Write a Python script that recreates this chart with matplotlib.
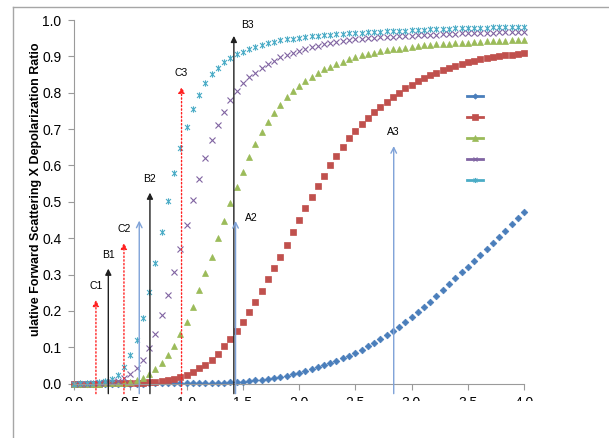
import numpy as np
import matplotlib
matplotlib.use("Agg")
import matplotlib.pyplot as plt
from matplotlib.path import Path
from matplotlib.lines import Line2D
from matplotlib.patches import Rectangle

# x grid of the curves (73 samples between 0 and 4)
x_vals = np.linspace(0.0, 4.0, 73)

blue = [0, 0, 0, 0, 0, 0, 0, 0, 0, 0, 0, 0, 0.001, 0.001, 0.001, 0.001, 0.001, 0.001,
        0.002, 0.002, 0.002, 0.002, 0.002, 0.003, 0.003,
        0.004, 0.005, 0.006, 0.007, 0.009, 0.010, 0.013, 0.015, 0.018, 0.022,
        0.026, 0.029, 0.034, 0.040, 0.045, 0.051, 0.056, 0.063, 0.070, 0.077,
        0.085, 0.093, 0.103, 0.113, 0.123, 0.134, 0.145, 0.156, 0.169, 0.184,
        0.197, 0.212, 0.226, 0.241, 0.258, 0.273, 0.290, 0.307, 0.322, 0.337,
        0.355, 0.370, 0.388, 0.404, 0.421, 0.438, 0.455, 0.473]
red = [0, 0, 0, 0, 0, 0.001, 0.001, 0.001, 0.002, 0.002, 0.003, 0.003, 0.004,
       0.006, 0.008, 0.010, 0.014, 0.019, 0.025, 0.033, 0.042, 0.052, 0.065, 0.083,
       0.104, 0.124, 0.145, 0.170, 0.197, 0.225, 0.256, 0.287, 0.317, 0.348,
       0.382, 0.416, 0.450, 0.482, 0.512, 0.544, 0.572, 0.600, 0.626, 0.651,
       0.675, 0.694, 0.713, 0.730, 0.746, 0.760, 0.774, 0.788, 0.800, 0.812,
       0.822, 0.831, 0.840, 0.848, 0.855, 0.862, 0.868, 0.874, 0.879, 0.884,
       0.888, 0.892, 0.895, 0.898, 0.900, 0.903, 0.905, 0.907, 0.909]
green = [0, 0, 0, 0, 0, 0.001, 0.001, 0.002, 0.003, 0.005, 0.009, 0.016, 0.027,
         0.040, 0.057, 0.079, 0.104, 0.136, 0.171, 0.212, 0.257, 0.303, 0.349,
         0.400, 0.448, 0.497, 0.542, 0.583, 0.622, 0.659, 0.691, 0.719, 0.743,
         0.766, 0.787, 0.804, 0.819, 0.832, 0.844, 0.855, 0.864, 0.872, 0.879,
         0.885, 0.892, 0.897, 0.903, 0.906, 0.910, 0.914, 0.917, 0.919, 0.921,
         0.923, 0.926, 0.928, 0.930, 0.931, 0.933, 0.934, 0.935, 0.936, 0.937,
         0.938, 0.939, 0.940, 0.941, 0.942, 0.942, 0.943, 0.944, 0.944, 0.945]
purple = [0, 0, 0, 0.001, 0.001, 0.002, 0.004, 0.008, 0.015, 0.027, 0.042, 0.064,
          0.097, 0.137, 0.188, 0.244, 0.306, 0.370, 0.437, 0.504, 0.563, 0.621,
          0.670, 0.711, 0.748, 0.780, 0.806, 0.826, 0.843, 0.855, 0.867, 0.879,
          0.888, 0.897, 0.905, 0.910, 0.916, 0.921, 0.926, 0.929, 0.933, 0.937,
          0.940, 0.942, 0.945, 0.947, 0.949, 0.950, 0.951, 0.952, 0.953, 0.954,
          0.955, 0.956, 0.957, 0.958, 0.959, 0.960, 0.960, 0.961, 0.962, 0.962,
          0.963, 0.963, 0.964, 0.964, 0.965, 0.965, 0.966, 0.966, 0.967, 0.967, 0.968]
cyan = [0, 0.001, 0.001, 0.002, 0.004, 0.007, 0.013, 0.024, 0.045, 0.078, 0.120,
        0.180, 0.253, 0.333, 0.418, 0.502, 0.580, 0.649, 0.707, 0.755, 0.794,
        0.826, 0.852, 0.869, 0.884, 0.896, 0.906, 0.913, 0.919, 0.925, 0.931,
        0.936, 0.940, 0.944, 0.947, 0.949, 0.951, 0.953, 0.955, 0.957, 0.958,
        0.959, 0.961, 0.962, 0.963, 0.964, 0.965, 0.966, 0.967, 0.968, 0.969,
        0.970, 0.971, 0.971, 0.972, 0.973, 0.973, 0.974, 0.975, 0.975, 0.976,
        0.977, 0.977, 0.978, 0.978, 0.979, 0.979, 0.980, 0.980, 0.981, 0.981,
        0.982, 0.982]

# vertical arrows drawn on the chart
arrow_names = ['C1', 'B1', 'C2', '', 'B2', 'C3', 'B3', 'A2', 'A3']
arrow_x = [0.195, 0.305, 0.444, 0.58, 0.675, 0.956, 1.421, 1.436, 2.842]
arrow_top = [0.238, 0.324, 0.395, 0.456, 0.533, 0.824, 0.964, 0.455, 0.661]
arrow_group = ['C', 'B', 'C', 'A', 'B', 'C', 'B', 'A', 'A']

x_ticks = [0.0, 0.5, 1.0, 1.5, 2.0, 2.5, 3.0, 3.5, 4.0]
y_ticks = [0.0, 0.1, 0.2, 0.3, 0.4, 0.5, 0.6, 0.7, 0.8, 0.9, 1.0]

W, H = 609, 438
fig = plt.figure(figsize=(W / 100, H / 100), dpi=100)
ax = fig.add_axes([74 / W, 1 - 383.7 / H, 450 / W, 363.7 / H])

star = Path([(-1, -1), (1, 1), (-1, 1), (1, -1), (0, -1.3), (0, 1.3)],
            [Path.MOVETO, Path.LINETO, Path.MOVETO, Path.LINETO, Path.MOVETO, Path.LINETO])

styles = [
    (blue, '#4A7EBB', 'D', 3.4, 0.5),
    (red, '#C0504D', 's', 5.0, 0.5),
    (green, '#9BBB59', '^', 5.0, 0.5),
    (purple, '#8064A2', 'x', 4.4, 0.8),
    (cyan, '#4BACC6', star, 4.6, 0.8),
]
handles = []
for ys, col, mk, ms, mew in styles:
    ax.plot(x_vals, ys, linestyle='none', marker=mk, markersize=ms, color=col,
            markeredgewidth=mew, clip_on=False, zorder=2)
    handles.append(Line2D([], [], color=col, lw=2, marker=mk, markersize=ms * 0.8,
                          markeredgewidth=mew))

ax.legend(handles, [''] * 5, loc='center', bbox_to_anchor=(475 / W, 1 - 139 / H),
          bbox_transform=fig.transFigure, frameon=False, handlelength=1.15,
          handletextpad=0, borderpad=0, labelspacing=0.5)

arrow_style = {
    'A': dict(arrowstyle='->', color='#7FA2D8', lw=1.0, linestyle='-'),
    'B': dict(arrowstyle='-|>', color='#202020', lw=1.0, linestyle='-', mutation_scale=9),
    'C': dict(arrowstyle='-|>', color='#FF2020', lw=1.0, linestyle=':', mutation_scale=9),
}
for name, xa, top, grp in zip(arrow_names, arrow_x, arrow_top, arrow_group):
    ax.annotate('', xy=(xa, top), xytext=(xa, -0.035), arrowprops=arrow_style[grp],
                annotation_clip=False, zorder=3)
    if name == 'B3':
        off, ha, va = (5, 6), 'left', 'center'
    elif name == 'A2':
        off, ha, va = (7, 0), 'left', 'center'
    else:
        off, ha, va = (0, 8), 'center', 'center'
    ax.annotate(name, xy=(xa, top), xytext=off, textcoords='offset points',
                ha=ha, va=va, fontsize=7.5, family='Liberation Sans',
                annotation_clip=False)

ax.set_xlim(0, 4.0)
ax.set_ylim(0, 1.0)
ax.set_xticks(x_ticks)
ax.set_xticklabels([f'{v:.1f}' for v in x_ticks])
ax.set_yticks(y_ticks)
ax.set_yticklabels([f'{v:.1f}' for v in y_ticks])
for lab in ax.get_xticklabels() + ax.get_yticklabels():
    lab.set_family('Liberation Sans')
ax.tick_params(direction='out', length=4, width=0.8, color='#9A9A9A',
               labelsize=10, pad=5)
for side in ['top', 'right']:
    ax.spines[side].set_visible(False)
for side in ['left', 'bottom']:
    ax.spines[side].set_color('#9A9A9A')
    ax.spines[side].set_linewidth(0.8)

fig.text(36 / W, 1 - 189.5 / H, 'ulative Forward Scattering X Depolarization Ratio',
         rotation=90, ha='center', va='center', fontsize=9, fontweight='bold',
         family='Liberation Sans')

# the picture is cut off below the tick labels
fig.add_artist(Rectangle((13.5 / W, 0), 1, (H - 401) / H, transform=fig.transFigure,
                         facecolor='white', edgecolor='none', zorder=5))
fig.add_artist(Line2D([12.5 / W, 12.5 / W], [0, 1 - 7 / H], transform=fig.transFigure,
                      color='#A6A6A6', lw=1, zorder=6))
fig.add_artist(Line2D([12.5 / W, 1], [1 - 7 / H, 1 - 7 / H], transform=fig.transFigure,
                      color='#A6A6A6', lw=1, zorder=6))

fig.savefig('out.png', dpi=100)
